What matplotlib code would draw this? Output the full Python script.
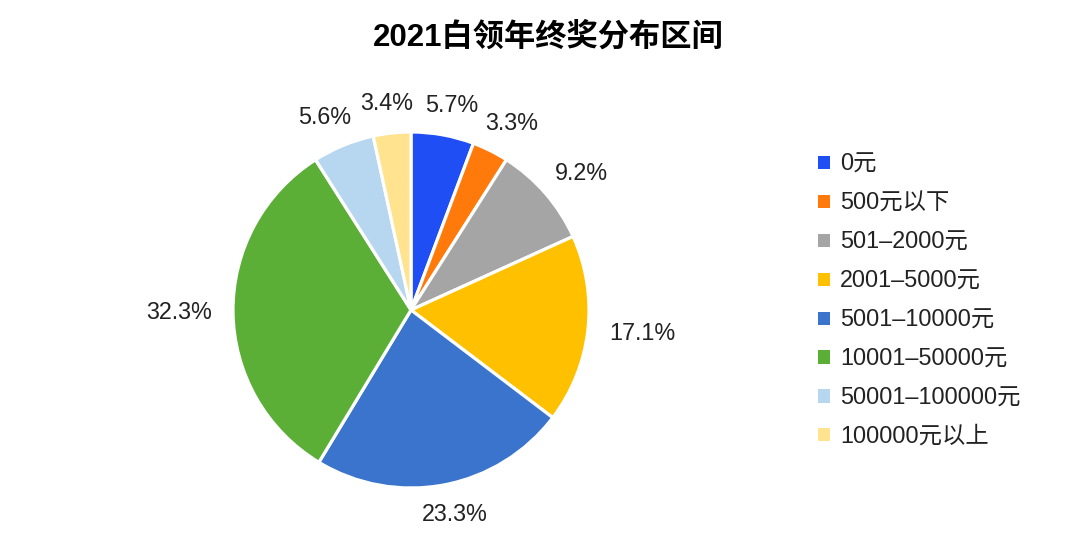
import matplotlib
matplotlib.use("Agg")
import matplotlib.pyplot as plt
from matplotlib.patches import Patch
import numpy as np

plt.rcParams['font.family'] = ['Liberation Sans', 'Noto Sans CJK SC', 'DejaVu Sans']

title = "2021白领年终奖分布区间"
categories = ["0元", "500元以下", "501–2000元", "2001–5000元", "5001–10000元",
              "10001–50000元", "50001–100000元", "100000元以上"]
values = [5.7, 3.3, 9.2, 17.1, 23.3, 32.3, 5.6, 3.4]
colors = ["#1F4EF5", "#FF7A0A", "#A5A5A5", "#FFC000", "#3A74CC",
          "#5BAF37", "#B7D7F0", "#FFE38E"]

W, H = 1080, 550
fig = plt.figure(figsize=(W / 100, H / 100), dpi=100)
cx, cy, R = 411, 310, 178
ax = fig.add_axes([(cx - R) / W, (H - cy - R) / H, 2 * R / W, 2 * R / H])
wedges, _ = ax.pie(values, colors=colors, startangle=90, counterclock=False,
                   radius=1.0, wedgeprops=dict(edgecolor='white', linewidth=2.3))
ax.set_xlim(-1, 1)
ax.set_ylim(-1, 1)
ax.set_aspect('equal')
ax.axis('off')

fig.canvas.draw()
renderer = fig.canvas.get_renderer()
fs = 16.8
for w, v in zip(wedges, values):
    ang = np.deg2rad((w.theta1 + w.theta2) / 2)
    c, s = np.cos(ang), np.sin(ang)
    t = ax.text(0, 0, f"{v}%", fontsize=fs, color="#222222", ha='center', va='center')
    bb = t.get_window_extent(renderer)
    tw, th = bb.width / R, bb.height * 0.75 / R
    d = 1.12
    t.set_position((d * c + 0.5 * tw * c, d * s + 0.5 * th * s))
    t.set_clip_on(False)

fig.text(548 / W, 1 - 37 / H, title, fontsize=22.5, fontweight='bold',
         ha='center', va='center', color='black')

handles = [Patch(facecolor=col, edgecolor='none') for col in colors]
leg = fig.legend(handles, categories, loc='upper left',
                 bbox_to_anchor=(818 / W, 1 - 153 / H), frameon=False,
                 fontsize=fs, handlelength=0.5, handleheight=0.5,
                 handletextpad=0.45, labelspacing=0.68, borderpad=0, borderaxespad=0)
for txt in leg.get_texts():
    txt.set_color("#222222")

fig.savefig("out.png", dpi=100)
